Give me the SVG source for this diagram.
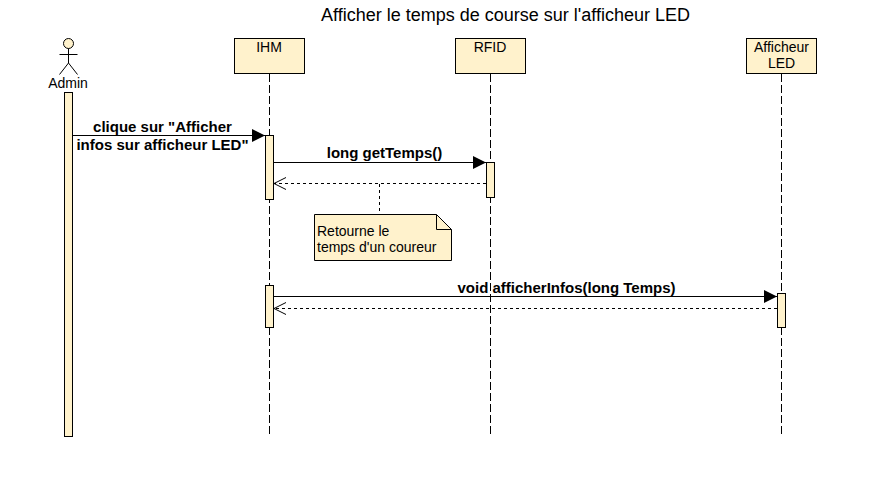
<svg xmlns="http://www.w3.org/2000/svg" width="872" height="477" viewBox="0 0 872 477">
<style>
text{font-family:"Liberation Sans",Arial,sans-serif;fill:#000}
.n{font-size:14px;text-anchor:middle}
.m{font-size:15px;font-weight:bold;text-anchor:middle}
.box{fill:#fff2cc;stroke:#000;stroke-width:1}
.life{stroke:#000;stroke-width:1;stroke-dasharray:8 3;fill:none}
.line{stroke:#000;stroke-width:1;fill:none}
.ret{stroke:#000;stroke-width:1;stroke-dasharray:3 3;fill:none}
</style>
<defs>
<marker id="solid" markerUnits="userSpaceOnUse" markerWidth="14" markerHeight="14" refX="13" refY="6.5" orient="auto"><path d="M0 0L13 6.5L0 13Z" fill="#000"/></marker>
<marker id="open" markerUnits="userSpaceOnUse" markerWidth="14" markerHeight="14" refX="13" refY="6.5" orient="auto"><path d="M1 0.5L13 6.500L1 12.500" fill="none" stroke="#000"/></marker>
</defs>
<rect width="872" height="477" fill="#fff"/>
<text x="505.500" y="21" font-size="18" text-anchor="middle">Afficher le temps de course sur l'afficheur LED</text>
<g id="lifelines">
<line class="life" x1="269.500" y1="74" x2="269.500" y2="434"/>
<line class="life" x1="490.500" y1="74" x2="490.500" y2="434"/>
<line class="life" x1="781.500" y1="74" x2="781.500" y2="434"/>
</g>
<g id="admin">
<circle class="box" cx="68.500" cy="43.500" r="5"/>
<path class="line" d="M68.500 48.500V63M59.500 54.500H77.500M59.500 74.500L68.500 63L77.500 74.500"/>
<text class="n" x="68" y="88">Admin</text>
<rect class="box" x="64.500" y="92.500" width="8" height="344"/>
</g>
<g id="ihm">
<rect class="box" x="234.500" y="38.500" width="70" height="35"/>
<text class="n" x="269" y="52">IHM</text>
<rect class="box" x="265.500" y="135.500" width="8" height="64"/>
<rect class="box" x="265.500" y="285.500" width="8" height="42"/>
</g>
<g id="rfid">
<rect class="box" x="455.500" y="38.500" width="70" height="35"/>
<text class="n" x="490" y="52">RFID</text>
<rect class="box" x="486.500" y="162.500" width="8" height="35"/>
</g>
<g id="afficheur">
<rect class="box" x="746.500" y="38.500" width="70" height="35"/>
<text class="n" x="781.500" y="52">Afficheur</text>
<text class="n" x="781.500" y="68">LED</text>
<rect class="box" x="777.500" y="293.500" width="8" height="34"/>
</g>
<g id="note">
<path d="M314.500 214.500H436.500L451.500 229.500V260.500H314.500Z" fill="#fff2cc" stroke="#000"/>
<path class="line" d="M436.500 214.500V229.500H451.500"/>
<text x="317" y="236" font-size="14">Retourne le</text>
<text x="317" y="252" font-size="14">temps d'un coureur</text>
</g>
<g id="connectors">
<line class="line" x1="72" y1="135.500" x2="265" y2="135.500" marker-end="url(#solid)"/>
<line class="line" x1="273" y1="162.500" x2="486" y2="162.500" marker-end="url(#solid)"/>
<line class="ret" x1="486" y1="183.500" x2="274" y2="183.500" marker-end="url(#open)"/>
<line class="ret" x1="379.500" y1="184" x2="379.500" y2="214"/>
<line class="line" x1="273" y1="296.500" x2="777" y2="296.500" marker-end="url(#solid)"/>
<line class="ret" x1="777" y1="308.500" x2="274" y2="308.500" marker-end="url(#open)"/>
<text class="m" x="162.500" y="132">clique sur "Afficher</text>
<text class="m" x="162.500" y="150">infos sur afficheur LED"</text>
<text class="m" x="384.500" y="158">long getTemps()</text>
<text class="m" x="566.500" y="293">void afficherInfos(long Temps)</text>
</g>
</svg>
